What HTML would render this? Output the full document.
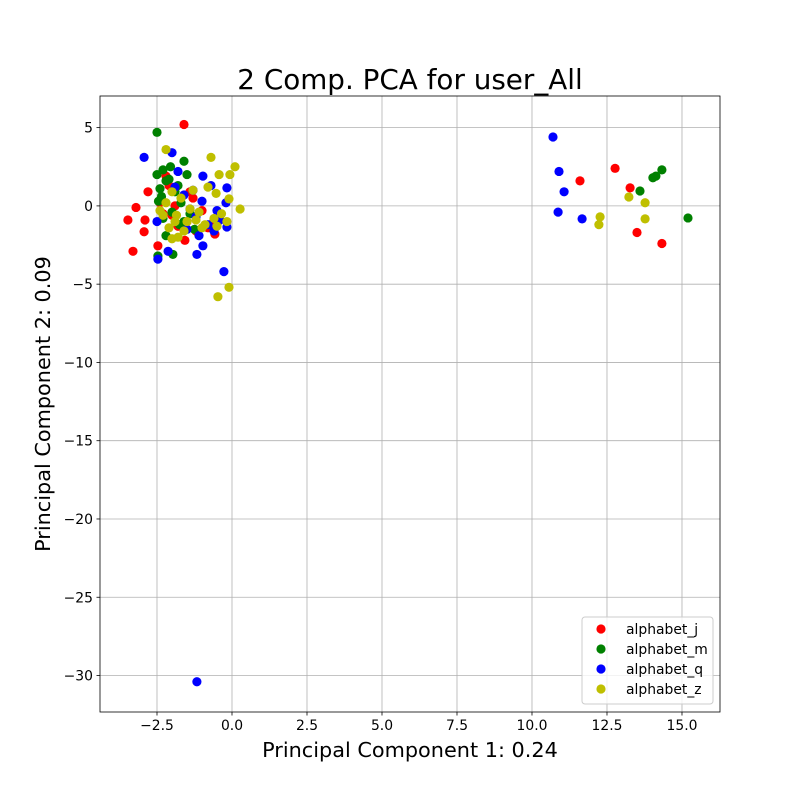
<!DOCTYPE html>
<html><head><meta charset="utf-8"><style>body{margin:0;background:#fff}svg{font-family:"DejaVu Sans","Liberation Sans",sans-serif}</style></head>
<body>
<svg id="chart" width="800" height="800"></svg>
<script>
const seriesNames=["alphabet_j","alphabet_m","alphabet_q","alphabet_z"];
const seriesColors=["#ff0000","#008000","#0000ff","#bfbf00"];
const xTicks=[-2.5,0,2.5,5,7.5,10,12.5,15];
const xTickLabels=["−2.5","0.0","2.5","5.0","7.5","10.0","12.5","15.0"];
const yTicks=[5,0,-5,-10,-15,-20,-25,-30];
const yTickLabels=["5","0","−5","−10","−15","−20","−25","−30"];
const jX=[11.6,12.77,13.27,13.5,14.33,-1.6,-3.47,-3.3,-2.93,-2.8,-3.2,-2.9,-2.47,-1.57,-0.57,-2.2,-1.8,-1.3,-2.0,-1.0,-2.4,-0.8,-1.5,-2.1,-1.2,-0.6,-1.9,-2.3,-1.4];
const jY=[1.6,2.4,1.15,-1.7,-2.4,5.2,-0.9,-2.9,-1.65,0.9,-0.1,-0.9,-2.55,-2.2,-1.8,1.9,-1.3,0.5,-0.6,-0.3,0.2,-1.4,-1.0,1.3,-1.6,-0.9,0.0,-0.5,0.9];
const mX=[13.6,14.03,14.13,14.33,15.2,-2.5,-2.47,-1.97,-1.6,-1.5,-2.3,-2.2,-2.4,-2.05,-1.8,-1.7,-2.35,-2.0,-1.6,-2.5,-1.9,-2.2,-1.4,-2.45,-2.1,-1.25,-2.3,-1.75];
const mY=[0.95,1.8,1.9,2.3,-0.77,4.7,-3.2,-3.1,2.85,2.0,2.3,1.6,1.1,2.5,1.3,0.2,0.6,-0.4,-1.0,2.0,0.9,-1.9,-0.5,0.3,1.7,-1.5,-0.8,-1.2];
const qX=[10.7,10.9,11.07,10.87,11.67,-1.17,-0.27,-2.93,-2.0,-2.47,-1.17,-0.97,-0.17,-2.13,-0.97,-1.8,-0.7,-0.17,-1.5,-1.3,-1.0,-0.5,-0.2,-1.2,-0.8,-1.6,-2.5,-1.1,-0.4,-1.9,-0.6,-1.4];
const qY=[4.4,2.2,0.9,-0.4,-0.83,-30.4,-4.2,3.1,3.4,-3.4,-3.1,-2.55,-1.35,-2.9,1.9,2.2,1.3,1.15,-1.5,1.0,0.3,-0.3,0.2,-0.7,-1.2,0.7,-1.0,-1.9,-0.9,1.2,-1.6,-0.2];
const zX=[12.27,12.23,13.23,13.77,13.77,-0.47,-0.1,-2.2,-0.7,0.1,0.27,-0.17,-0.07,-0.43,-0.53,-0.1,-2.0,-1.7,-1.4,-2.3,-1.9,-2.1,-1.6,-1.2,-0.9,-0.6,-1.0,-2.4,-1.8,-1.5,-2.0,-0.8,-0.35,-1.3,-2.2,-1.1,-0.5,-1.85];
const zY=[-0.7,-1.2,0.57,0.2,-0.83,-5.8,-5.2,3.6,3.1,2.5,-0.2,-1.0,2.0,2.0,0.8,0.45,0.9,0.5,-0.2,-0.6,-1.0,-1.4,-1.6,-0.9,-1.2,-0.8,-1.4,-0.3,-2.0,-1.0,-2.1,1.2,-0.5,1.0,0.2,-0.4,-1.3,-0.6];
const seriesX=[jX,mX,qX,zX], seriesY=[jY,mY,qY,zY];

const L=100,R=720,T=96,B=712;
const xmin=-4.4,xmax=16.267,ymin=-32.33,ymax=7.02;
const sx=v=>L+(v-xmin)/(xmax-xmin)*(R-L);
const sy=v=>B-(v-ymin)/(ymax-ymin)*(B-T);
const NS="http://www.w3.org/2000/svg";
const svg=document.getElementById("chart");
function mk(t,a,p){const e=document.createElementNS(NS,t);for(const k in a)e.setAttribute(k,a[k]);(p||svg).appendChild(e);return e;}

const grid=mk("g",{});


xTicks.forEach((v,i)=>{
 const x=sx(v);
 const gl=mk("line",{x1:x,x2:x,y1:T,y2:B,stroke:"#b0b0b0","stroke-width":0.8},grid);
 
 
 mk("line",{x1:x,x2:x,y1:B,y2:B+3.5,stroke:"#000","stroke-width":0.8});
 const t=mk("text",{x:x,y:B+18,"text-anchor":"middle","font-size":"13.9"});
 t.textContent=xTickLabels[i];
 
 
});
yTicks.forEach((v,i)=>{
 const y=sy(v);
 const gl=mk("line",{x1:L,x2:R,y1:y,y2:y,stroke:"#b0b0b0","stroke-width":0.8},grid);
 
 
 mk("line",{x1:L-3.5,x2:L,y1:y,y2:y,stroke:"#000","stroke-width":0.8});
 const t=mk("text",{x:L-7,y:y+5,"text-anchor":"end","font-size":"13.9"});
 t.textContent=yTickLabels[i];
 
 
});
seriesX.forEach((xs,s)=>{
 const g=mk("g",{fill:seriesColors[s]});
 
 
 xs.forEach((v,i)=>{
  const c=mk("circle",{cx:sx(v),cy:sy(seriesY[s][i]),r:4.6},g);
  
  
 });
});
const frame=mk("rect",{x:L,y:T,width:R-L,height:B-T,fill:"none",stroke:"#000","stroke-width":0.8});


const title=mk("text",{x:410,y:89,"text-anchor":"middle","font-size":"27.8"});
title.textContent="2 Comp. PCA for user_All";


const xl=mk("text",{x:410,y:757,"text-anchor":"middle","font-size":"20.8"});
xl.textContent="Principal Component 1: 0.24";


const yl=mk("text",{x:50,y:404,"text-anchor":"middle","font-size":"20.8",transform:"rotate(-90 50 404)"});
yl.textContent="Principal Component 2: 0.09";


const lg=mk("g",{});


mk("rect",{x:582,y:617,width:131,height:87,rx:3,fill:"#fff","fill-opacity":0.8,stroke:"#ccc"},lg);
seriesNames.forEach((n,i)=>{
 const y=629+i*20;
 const e=mk("g",{},lg);
 
 
 mk("circle",{cx:601,cy:y,r:4.6,fill:seriesColors[i]},e);
 const t=mk("text",{x:626,y:y+5,"font-size":"13.9"},e);
 t.textContent=n;
});
</script>
</body></html>
